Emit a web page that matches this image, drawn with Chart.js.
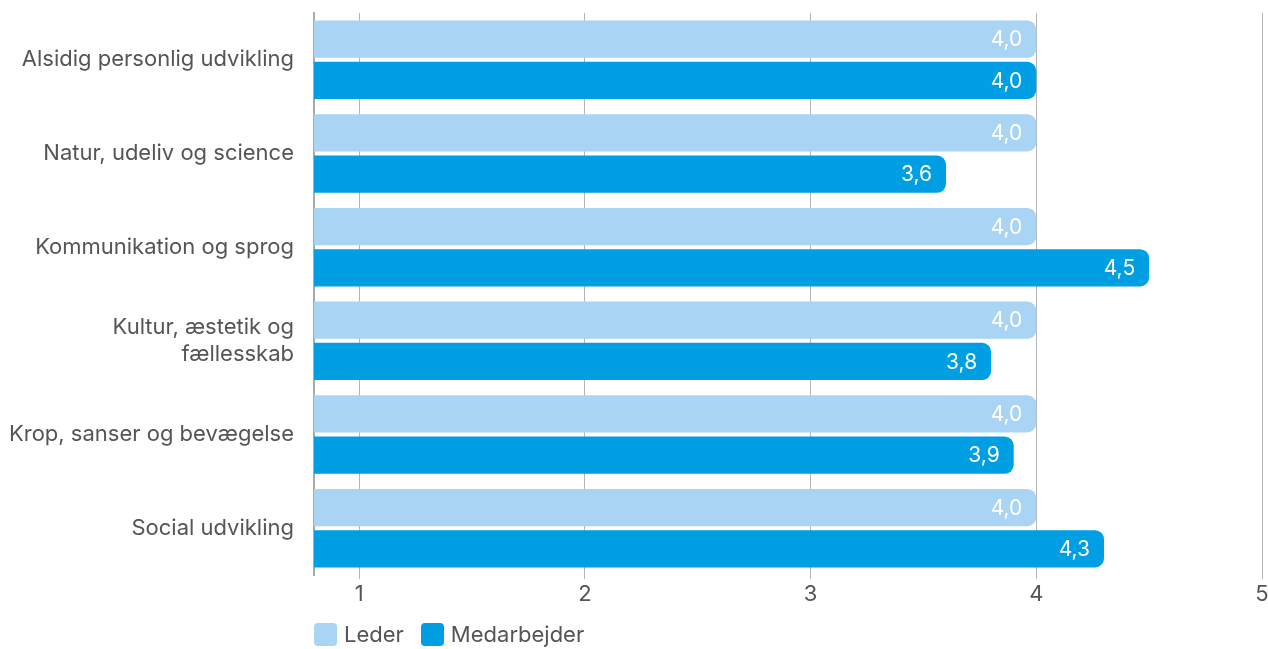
<!DOCTYPE html>
<html lang="da">
<head>
<meta charset="utf-8">
<title>Leder / Medarbejder</title>
<script src="https://cdn.jsdelivr.net/npm/chart.js@4.4.1/dist/chart.umd.min.js"></script>
<style>
  body { margin: 0; background: #fff; font-family: Inter, sans-serif; }
  #wrap { position: relative; width: 1268px; height: 649px; }
  #legend { position: absolute; left: 314px; top: 623px; display: flex; align-items: center; }
  .item { display: flex; align-items: center; margin-right: 17px; font-size: 22px; color: #555; line-height: 23px; }
  .box { width: 23px; height: 23px; border-radius: 4px; margin-right: 7px; }
</style>
</head>
<body>
<div id="wrap">
  <canvas id="chart"></canvas>
  <div id="legend"></div>
</div>
<script>
// --- data ---
const kategorier = [
  'Alsidig personlig udvikling',
  'Natur, udeliv og science',
  'Kommunikation og sprog',
  ['Kultur, æstetik og', 'fællesskab'],
  'Krop, sanser og bevægelse',
  'Social udvikling'
];
const serieNavne = ['Leder', 'Medarbejder'];
const lederVaerdier = [4.0, 4.0, 4.0, 4.0, 4.0, 4.0];
const medarbejderVaerdier = [4.0, 3.6, 4.5, 3.8, 3.9, 4.3];
const xTicks = [1, 2, 3, 4, 5];

const farver = ['#A9D4F4', '#009FE3'];

// værdier inde i søjlerne, højrestillet
const labelPlugin = {
  id: 'barLabels',
  afterDatasetsDraw(chart) {
    const ctx = chart.ctx;
    ctx.save();
    ctx.font = '21px Inter';
    ctx.fillStyle = '#fff';
    ctx.textAlign = 'right';
    ctx.textBaseline = 'middle';
    chart.data.datasets.forEach((ds, i) => {
      chart.getDatasetMeta(i).data.forEach((bar, j) => {
        const txt = ds.data[j].toFixed(1).replace('.', ',');
        ctx.fillText(txt, bar.x - 14, bar.y + 1);
      });
    });
    ctx.restore();
  }
};

const chart = new Chart(document.getElementById('chart'), {
  type: 'bar',
  data: {
    labels: kategorier,
    datasets: [
      { label: serieNavne[0], data: lederVaerdier, backgroundColor: farver[0] },
      { label: serieNavne[1], data: medarbejderVaerdier, backgroundColor: farver[1] }
    ]
  },
  options: {
    indexAxis: 'y',
    responsive: true,
    maintainAspectRatio: false,
    animation: false,
    layout: { padding: { top: 13, bottom: 34, left: 0 } },
    datasets: {
      bar: {
        categoryPercentage: 0.882,
        barPercentage: 0.902,
        borderRadius: 9,
        borderSkipped: 'start'
      }
    },
    plugins: {
      legend: { display: false },
      tooltip: { enabled: false }
    },
    scales: {
      x: {
        min: 0.8,
        max: 5,
        afterBuildTicks: (scale) => { scale.ticks = xTicks.map(v => ({ value: v })); },
        afterFit: (scale) => {
          scale.height = 40;
          scale.paddingRight = 6;
        },
        grid: { color: '#b5b5b5', lineWidth: 1, tickLength: 4, drawTicks: true },
        border: { display: false },
        ticks: { font: { family: 'Inter', size: 22 }, color: '#555', padding: 2 }
      },
      y: {
        afterFit: (scale) => {
          scale.width = 314;
          scale.paddingTop = 0;
          scale.paddingBottom = 0;
        },
        grid: { display: false, drawTicks: false },
        border: { display: true, color: '#aaa', width: 2 },
        ticks: { font: { family: 'Inter', size: 22, lineHeight: 1.25 }, color: '#555', padding: 20 }
      }
    }
  },
  plugins: [labelPlugin]
});

// HTML-legende
const legend = document.getElementById('legend');
chart.data.datasets.forEach(ds => {
  const item = document.createElement('div');
  item.className = 'item';
  item.innerHTML = `<span class="box" style="background:${ds.backgroundColor}"></span>${ds.label}`;
  legend.appendChild(item);
});
</script>
</body>
</html>
